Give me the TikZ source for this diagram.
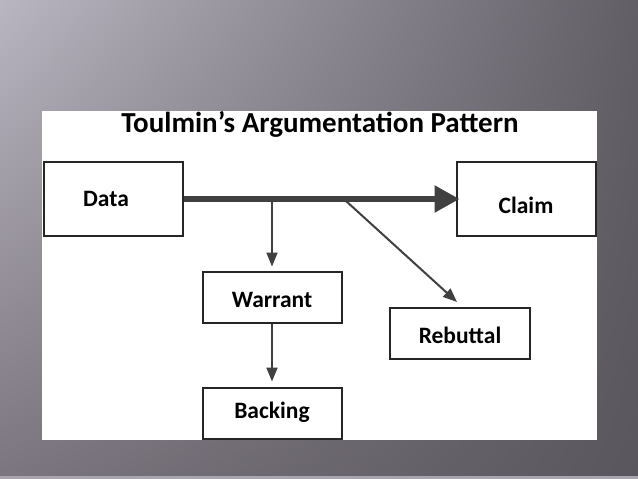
\documentclass[tikz,border=0pt]{standalone}
\usepackage{fontspec}
\setmainfont{Carlito}
\usetikzlibrary{arrows.meta, calc, shadings}

\definecolor{bgLight}{HTML}{BAB6C1}
\definecolor{bgDark}{HTML}{625E66}
\definecolor{bgMid}{HTML}{7A757E}
\definecolor{bgDeep}{HTML}{5A565D}
\definecolor{bgEdge}{HTML}{A9A5AE}
\definecolor{ink}{HTML}{262626}
\definecolor{flow}{HTML}{404040}

\begin{document}
\begin{tikzpicture}[x=1pt, y=-1pt, >=Stealth,
    part/.style={draw=ink, line width=2pt, minimum width=139pt, inner sep=0pt,
      font=\fontsize{23.5}{26}\selectfont\bfseries, text=black},
    link/.style={draw=flow, line width=2pt, -{Triangle[length=14pt, width=11pt]}}]

    % Slide background
    \useasboundingbox (0,0) rectangle (638,479);
    \shade[upper left=bgLight, upper right=bgDark, lower left=bgMid, lower right=bgDeep]
      (0,0) rectangle (638,479);
    \fill[bgEdge] (0,476) rectangle (638,479);

    % Picture panel
    \fill[white] (42,111) rectangle (597,440);
    \node[font=\fontsize{29}{32}\selectfont\bfseries, text=black] (title) at (320,124)
      {Toulmin’s Argumentation Pattern};

    % Boxes
    \node[part, minimum height=74pt] (data) at (113,199) {Data\hspace*{14pt}};
    \node[part, minimum height=74pt, text height=29pt] (claim) at (526,199) {Claim};
    \node[part, minimum height=51pt, text height=21pt] (warrant) at (272,297) {Warrant};
    \node[part, minimum height=51pt, minimum width=140pt, text height=21pt] (rebuttal) at (460,333) {Rebuttal};
    \node[part, minimum height=51pt, text depth=6pt] (backing) at (272,413) {Backing};

    % Branch points on the main line
    \coordinate (wjoin) at (272,199);
    \coordinate (rjoin) at (346,201);
    \coordinate (rtip) at (457,302);

    % Main inference: data to claim
    \draw[draw=flow, line width=5.5pt, -{Triangle[length=25pt, width=26pt]}]
      (data.east) -- ($(claim.west)+(4,0)$);

    % Warrant, backing and rebuttal
    \draw[link, shorten >=4pt] (wjoin) -- (warrant.north);
    \draw[link, shorten >=5pt] (warrant.south) -- (backing.north);
    \draw[link] (rjoin) -- (rtip);

\end{tikzpicture}
\end{document}
